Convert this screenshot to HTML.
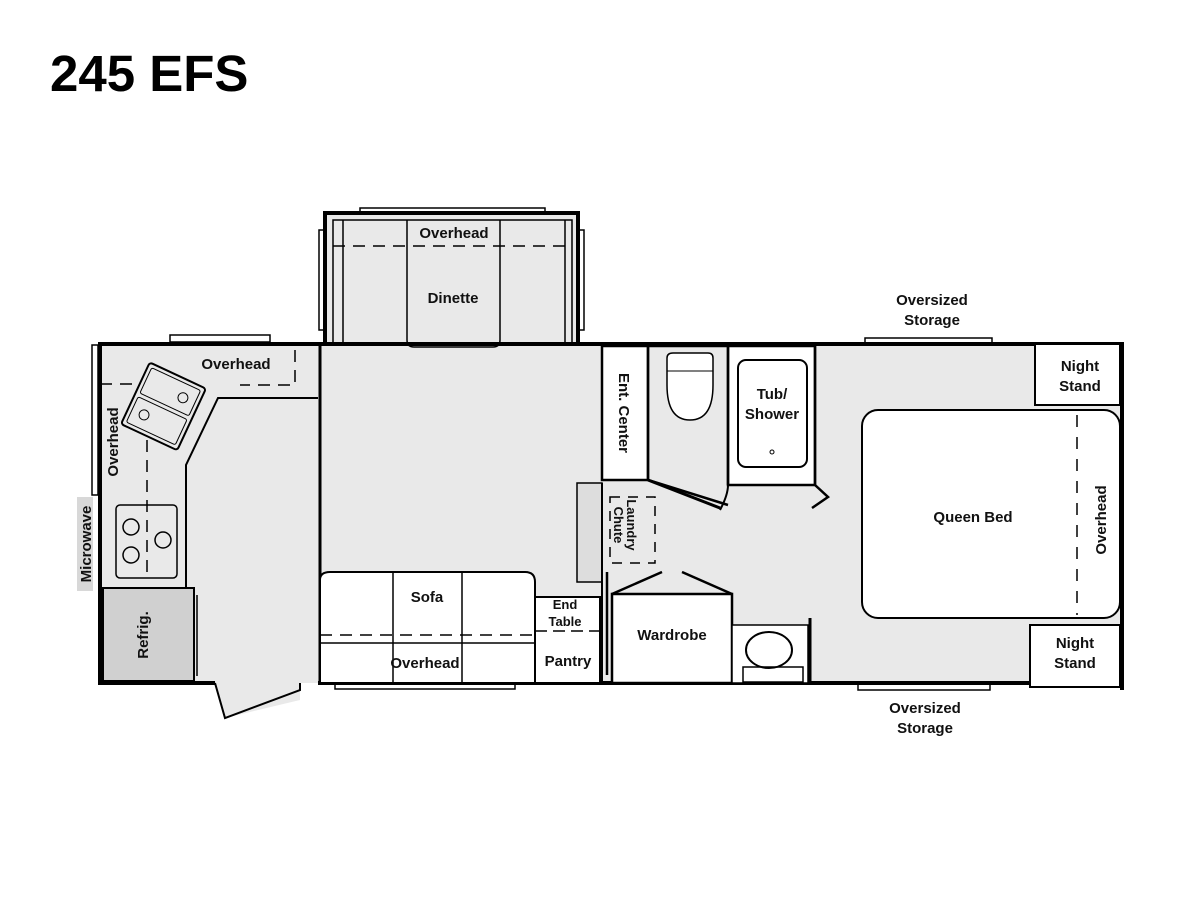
<!DOCTYPE html>
<html><head><style>body{margin:0;background:#fff}svg{display:block}text{font-family:"Liberation Sans",Arial,sans-serif;font-weight:bold;fill:#111}</style></head><body>
<svg width="1200" height="900" viewBox="0 0 1200 900" xmlns="http://www.w3.org/2000/svg">
<text x="50" y="91" font-size="51" style="font-family:'Liberation Sans',Arial,sans-serif;fill:#000">245 EFS</text>
<g fill="#e9e9e9" stroke="none">
<rect x="100" y="344" width="1020" height="339"/>
<rect x="325" y="213" width="253" height="132"/>
<polygon points="215,683 300,683 300,700 225,718"/>
</g>
<g fill="none" stroke="#000">
<rect x="170" y="335" width="100" height="7" stroke-width="1.5" fill="#fff"/>
<rect x="92" y="345" width="6" height="150" stroke-width="1.5" fill="#fff"/>
<rect x="360" y="208" width="185" height="5" stroke-width="1.5" fill="#fff"/>
<rect x="319" y="230" width="5" height="100" stroke-width="1.5"/>
<rect x="579" y="230" width="5" height="100" stroke-width="1.5"/>
<rect x="865" y="338" width="127" height="5" stroke-width="1.5" fill="#fff"/>
<rect x="858" y="684" width="132" height="6" stroke-width="1.5" fill="#fff"/>
<rect x="335" y="684" width="180" height="5" stroke-width="1.5" fill="#fff"/>
<polyline points="215,683 100,683 100,344 325,344" stroke-width="4"/>
<polyline points="578,344 1122,344 1122,690" stroke-width="4"/>
<line x1="318" y1="683" x2="1120" y2="683" stroke-width="4"/>
<rect x="325" y="213" width="253" height="131" stroke-width="4"/>
<line x1="320" y1="344" x2="320" y2="683" stroke-width="3"/>
<polyline points="300,683 300,690 225,718 215,683" stroke-width="2" fill="#e9e9e9"/>
<polyline points="318,398 218,398 186,465 186,588" stroke-width="2"/>
<rect x="103" y="588" width="91" height="93" fill="#d0d0d0" stroke-width="2"/>
<line x1="197" y1="595" x2="197" y2="676" stroke-width="1.5"/>
<polyline points="295,350 295,385 240,385" stroke-width="1.5" stroke-dasharray="12,8"/>
<line x1="100" y1="384" x2="140" y2="384" stroke-width="1.5" stroke-dasharray="12,8"/>
<line x1="147" y1="440" x2="147" y2="578" stroke-width="1.5" stroke-dasharray="12,8"/>
<rect x="116" y="505" width="61" height="73" rx="4" stroke-width="1.5"/>
<g stroke-width="1.5"><circle cx="131" cy="527" r="8"/><circle cx="131" cy="555" r="8"/><circle cx="163" cy="540" r="8"/></g>
<g transform="rotate(25 163 405)" stroke-width="2"><rect x="133" y="372" width="62" height="68" rx="3"/><rect x="137" y="376" width="54" height="28" rx="2" stroke-width="1"/><rect x="137" y="408" width="54" height="28" rx="2" stroke-width="1"/><circle cx="178" cy="390" r="5" stroke-width="1"/><circle cx="150" cy="422" r="5" stroke-width="1"/></g>
<rect x="333" y="220" width="239" height="125" stroke-width="1.5"/>
<line x1="343" y1="220" x2="343" y2="345" stroke-width="1.5"/>
<line x1="565" y1="220" x2="565" y2="345" stroke-width="1.5"/>
<path d="M407,220 V340 Q407,347 414,347 H493 Q500,347 500,340 V220" stroke-width="1.5"/>
<line x1="333" y1="246" x2="572" y2="246" stroke-width="1.5" stroke-dasharray="12,8"/>
<rect x="602" y="346" width="46" height="134" stroke-width="2.5" fill="#fff"/>
<polyline points="648,346 648,480 728,505" stroke-width="2.5"/>
<line x1="648" y1="480" x2="720" y2="508" stroke-width="3"/>
<path d="M728,485 Q728,495 720,510" stroke-width="2"/>
<rect x="728" y="346" width="87" height="139" stroke-width="2.5" fill="#fff"/>
<path d="M648,346 H728 V485" stroke-width="2.5"/>
<rect x="738" y="360" width="69" height="107" rx="8" stroke-width="2"/>
<circle cx="772" cy="452" r="2" stroke-width="1"/>
<path d="M667,358 Q667,353 673,353 H708 Q713,353 713,358 V385 Q713,420 690,420 Q667,420 667,385 Z" stroke-width="1.5" fill="#fff"/>
<line x1="667" y1="371" x2="713" y2="371" stroke-width="1"/>
<polyline points="815,346 815,485 828,497 812,508" stroke-width="2.5"/>
<rect x="577" y="483" width="25" height="99" fill="#ddd" stroke-width="1.5"/>
<line x1="602" y1="483" x2="602" y2="682" stroke-width="2"/>
<rect x="610" y="497" width="45" height="66" stroke-width="1.5" stroke-dasharray="10,8"/>
<line x1="607" y1="572" x2="607" y2="675" stroke-width="2.5"/>
<rect x="612" y="594" width="120" height="89" stroke-width="2.5" fill="#fff"/>
<line x1="612" y1="594" x2="662" y2="572" stroke-width="2.5"/>
<line x1="732" y1="594" x2="682" y2="572" stroke-width="2.5"/>
<rect x="732" y="625" width="76" height="58" stroke-width="1.5" fill="#fff"/>
<ellipse cx="769" cy="650" rx="23" ry="18" stroke-width="2"/>
<rect x="743" y="667" width="60" height="15" stroke-width="1.5"/>
<line x1="810" y1="618" x2="810" y2="683" stroke-width="3"/>
<path d="M320,682 V580 Q320,572 330,572 H525 Q535,572 535,582 V682" stroke-width="2" fill="#fff"/>
<line x1="393" y1="572" x2="393" y2="682" stroke-width="1.5"/>
<line x1="462" y1="572" x2="462" y2="682" stroke-width="1.5"/>
<line x1="320" y1="643" x2="535" y2="643" stroke-width="1.5"/>
<line x1="320" y1="635" x2="535" y2="635" stroke-width="1.5" stroke-dasharray="12,8"/>
<rect x="535" y="597" width="65" height="86" stroke-width="2" fill="#fff"/>
<line x1="535" y1="631" x2="600" y2="631" stroke-width="1.5" stroke-dasharray="12,6"/>
<rect x="862" y="410" width="258" height="208" rx="16" stroke-width="2" fill="#fff"/>
<rect x="1035" y="344" width="85" height="61" stroke-width="2" fill="#fff"/>
<rect x="1030" y="625" width="90" height="62" stroke-width="2" fill="#fff"/>
<line x1="1077" y1="415" x2="1077" y2="615" stroke-width="1.5" stroke-dasharray="12,10"/>
</g>
<g font-size="15" text-anchor="middle">
<text x="236" y="369">Overhead</text>
<text x="454" y="238">Overhead</text>
<text x="453" y="303">Dinette</text>
<text x="932" y="305">Oversized</text><text x="932" y="325">Storage</text>
<text x="925" y="713">Oversized</text><text x="925" y="733">Storage</text>
<text x="1080" y="371">Night</text><text x="1080" y="391">Stand</text>
<text x="1075" y="648">Night</text><text x="1075" y="668">Stand</text>
<text x="973" y="522">Queen Bed</text>
<text x="772" y="399">Tub/</text><text x="772" y="419">Shower</text>
<text x="672" y="640">Wardrobe</text>
<text x="427" y="602">Sofa</text>
<text x="425" y="668">Overhead</text>
<text x="565" y="609" font-size="13">End</text><text x="565" y="626" font-size="13">Table</text>
<text x="568" y="666">Pantry</text>
<text transform="translate(619,413) rotate(90)">Ent. Center</text>
<text transform="translate(627,525) rotate(90)" font-size="13">Laundry</text>
<text transform="translate(614,525) rotate(90)" font-size="13">Chute</text>
<text transform="translate(1106,520) rotate(-90)">Overhead</text>
<text transform="translate(118,442) rotate(-90)">Overhead</text>
<text transform="translate(148,635) rotate(-90)">Refrig.</text>
</g>
<rect x="77" y="497" width="16" height="94" fill="#d8d8d8"/>
<text transform="translate(91,544) rotate(-90)" font-size="15" text-anchor="middle">Microwave</text>
</svg>
</body></html>
